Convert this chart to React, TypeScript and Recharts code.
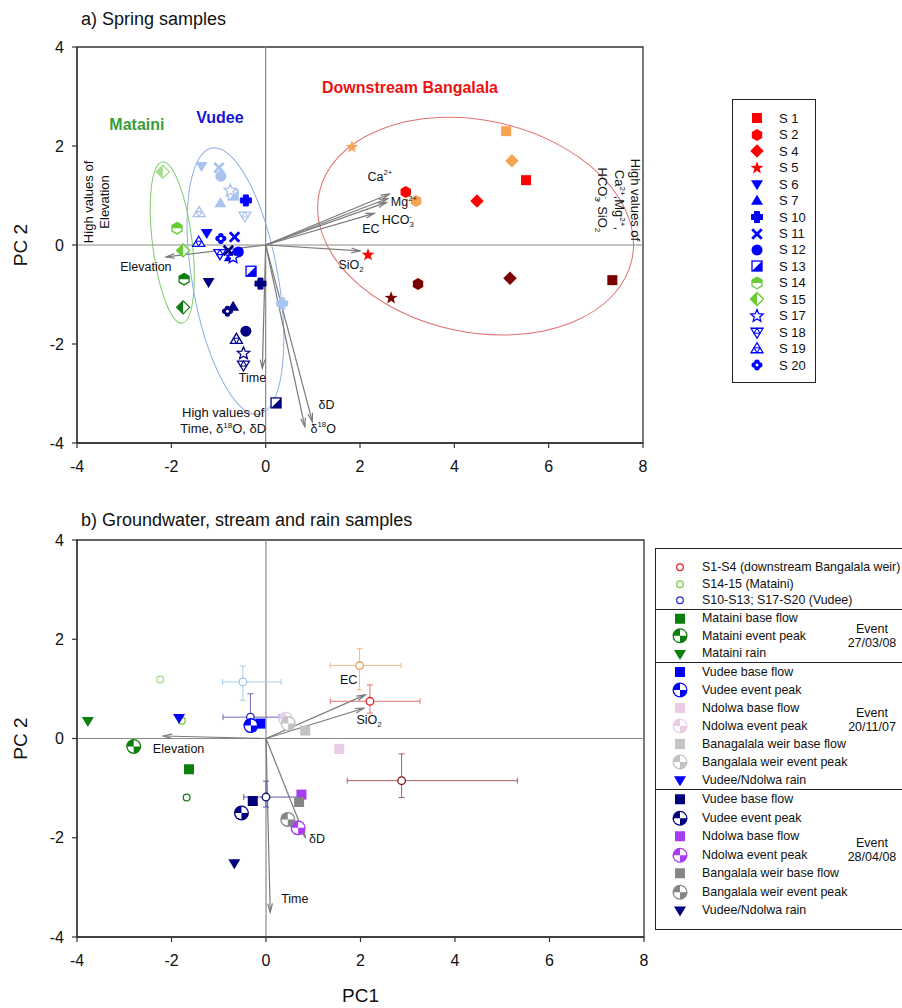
import React from "react";
import {
  ScatterChart,
  Scatter,
  XAxis,
  YAxis,
  ReferenceLine,
  ReferenceDot,
  ReferenceArea,
  ErrorBar,
  Legend,
} from "recharts";

const FONT = '"Liberation Sans", Arial, Helvetica, sans-serif';

// ---------- a) spring samples: PC1 / PC2 scores, three sampling rounds ----------
const springSites = ["S 1", "S 2", "S 4", "S 5", "S 6", "S 7", "S 10", "S 11", "S 12", "S 13", "S 14", "S 15", "S 17", "S 18", "S 19", "S 20"];

// pale symbols
const springRound1 = [
  { site: "S 1", x: 5.1, y: 2.3 },
  { site: "S 2", x: 3.19, y: 0.89 },
  { site: "S 4", x: 5.22, y: 1.7 },
  { site: "S 5", x: 1.83, y: 1.98 },
  { site: "S 6", x: -1.36, y: 1.6 },
  { site: "S 7", x: -0.96, y: 0.84 },
  { site: "S 10", x: 0.35, y: -1.18 },
  { site: "S 11", x: -0.99, y: 1.56 },
  { site: "S 12", x: -0.95, y: 1.39 },
  { site: "S 13", x: -0.69, y: 1.01 },
  { site: "S 15", x: -2.18, y: 1.48 },
  { site: "S 17", x: -0.75, y: 1.1 },
  { site: "S 18", x: -0.44, y: 0.59 },
  { site: "S 19", x: -1.41, y: 0.65 },
];

// mid symbols
const springRound2 = [
  { site: "S 1", x: 5.52, y: 1.31 },
  { site: "S 2", x: 2.97, y: 1.07 },
  { site: "S 4", x: 4.48, y: 0.89 },
  { site: "S 5", x: 2.17, y: -0.2 },
  { site: "S 6", x: -1.25, y: 0.25 },
  { site: "S 7", x: -0.76, y: -0.25 },
  { site: "S 10", x: -0.42, y: 0.9 },
  { site: "S 11", x: -0.66, y: 0.16 },
  { site: "S 12", x: -0.58, y: -0.14 },
  { site: "S 13", x: -0.31, y: -0.53 },
  { site: "S 14", x: -1.88, y: 0.34 },
  { site: "S 15", x: -1.75, y: -0.11 },
  { site: "S 17", x: -0.69, y: -0.25 },
  { site: "S 18", x: -0.97, y: -0.17 },
  { site: "S 19", x: -1.42, y: 0.05 },
  { site: "S 20", x: -0.95, y: 0.13 },
];

// dark symbols
const springRound3 = [
  { site: "S 1", x: 7.35, y: -0.71 },
  { site: "S 2", x: 3.23, y: -0.79 },
  { site: "S 4", x: 5.18, y: -0.67 },
  { site: "S 5", x: 2.66, y: -1.07 },
  { site: "S 6", x: -1.21, y: -0.74 },
  { site: "S 7", x: -0.69, y: -1.25 },
  { site: "S 10", x: -0.11, y: -0.78 },
  { site: "S 11", x: -0.79, y: -0.11 },
  { site: "S 12", x: -0.42, y: -1.74 },
  { site: "S 13", x: 0.22, y: -3.19 },
  { site: "S 14", x: -1.73, y: -0.69 },
  { site: "S 15", x: -1.75, y: -1.26 },
  { site: "S 17", x: -0.47, y: -2.19 },
  { site: "S 18", x: -0.47, y: -2.42 },
  { site: "S 19", x: -0.62, y: -1.91 },
  { site: "S 20", x: -0.81, y: -1.34 },
];

const springLoadings = [
  { name: "Ca", x: 2.62, y: 1.03 },
  { name: "Mg", x: 2.59, y: 0.94 },
  { name: "HCO3", x: 2.56, y: 0.86 },
  { name: "EC", x: 2.3, y: 0.64 },
  { name: "SiO2", x: 2.0, y: -0.12 },
  { name: "Elevation", x: -2.11, y: -0.24 },
  { name: "Time", x: -0.07, y: -2.49 },
  { name: "d18O", x: 0.83, y: -3.67 },
  { name: "dD", x: 0.99, y: -3.57 },
];

// ---------- b) groundwater, stream and rain ----------
const springMeanLabels = ["S1-S4 (downstream Bangalala weir)", "S14-15 (Mataini)", "S10-S13; S17-S20 (Vudee)"];

const bangalalaMeans = [
  { round: 0, x: 1.98, y: 1.47, ex: [0.62, 0.88], ey: [0.49, 0.34] },
  { round: 1, x: 2.2, y: 0.75, ex: [0.84, 1.06], ey: [0.24, 0.33] },
  { round: 2, x: 2.87, y: -0.85, ex: [1.15, 2.45], ey: [0.34, 0.54] },
];
const matainiMeans = [
  { round: 0, x: -2.24, y: 1.19 },
  { round: 1, x: -1.78, y: 0.36 },
  { round: 2, x: -1.68, y: -1.19 },
];
const vudeeMeans = [
  { round: 0, x: -0.49, y: 1.14, ex: [0.43, 0.81], ey: [0.37, 0.32] },
  { round: 1, x: -0.33, y: 0.43, ex: [0.58, 0.61], ey: [0.25, 0.47] },
  { round: 2, x: 0.0, y: -1.18, ex: [0.47, 0.73], ey: [0.2, 0.32] },
];

const event270308 = [
  { item: "Mataini base flow", x: -1.63, y: -0.62 },
  { item: "Mataini event peak", x: -2.8, y: -0.16 },
  { item: "Mataini rain", x: -3.77, y: 0.36 },
];
const event201107 = [
  { item: "Vudee base flow", x: -0.12, y: 0.3 },
  { item: "Vudee event peak", x: -0.32, y: 0.26 },
  { item: "Ndolwa base flow", x: 1.55, y: -0.21 },
  { item: "Ndolwa event peak", x: 0.42, y: 0.39 },
  { item: "Banagalala weir base flow", x: 0.83, y: 0.16 },
  { item: "Bangalala weir event peak", x: 0.47, y: 0.3 },
  { item: "Vudee/Ndolwa rain", x: -1.84, y: 0.42 },
];
const event280408 = [
  { item: "Vudee base flow", x: -0.28, y: -1.26 },
  { item: "Vudee event peak", x: -0.52, y: -1.5 },
  { item: "Ndolwa base flow", x: 0.75, y: -1.13 },
  { item: "Ndolwa event peak", x: 0.68, y: -1.8 },
  { item: "Bangalala weir base flow", x: 0.7, y: -1.28 },
  { item: "Bangalala weir event peak", x: 0.46, y: -1.63 },
  { item: "Vudee/Ndolwa rain", x: -0.67, y: -2.51 },
];
const eventDates = ["27/03/08", "20/11/07", "28/04/08"];

const streamLoadings = [
  { name: "EC", x: 2.1, y: 0.88 },
  { name: "SiO2", x: 2.07, y: 0.61 },
  { name: "Elevation", x: -2.17, y: 0.05 },
  { name: "dD", x: 0.83, y: -1.99 },
  { name: "Time", x: 0.09, y: -3.5 },
];

// ---------- styling tables ----------
const siteMarker: Record<string, string> = {
  "S 1": "square", "S 2": "hexagon", "S 4": "diamond", "S 5": "star",
  "S 6": "triDown", "S 7": "triUp", "S 10": "plus", "S 11": "cross",
  "S 12": "circle", "S 13": "halfSquare", "S 14": "halfHex", "S 15": "halfDiamond",
  "S 17": "starOpen", "S 18": "triDownOpen", "S 19": "triUpOpen", "S 20": "flower",
};
const shades: Record<string, string[]> = {
  bang: ["#f5a455", "#ff0000", "#7d0000"],
  vud: ["#a9c3ef", "#0000ff", "#000080"],
  mat: ["#a5dd8a", "#66cc33", "#127a12"],
};
const siteGroup = (site: string) => {
  const n = parseInt(site.replace(/\D/g, ""), 10);
  if (n <= 5) return "bang";
  if (n === 14 || n === 15) return "mat";
  return "vud";
};
const ringColors: Record<string, string[]> = {
  bang: ["#eda45a", "#dd1f1f", "#7a1616"],
  mat: ["#a5dd8a", "#77cc44", "#1a801a"],
  vud: ["#9fc6ec", "#2a2ab0", "#12127a"],
};
const barColors: Record<string, string[]> = {
  bang: ["#efbb8c", "#e07272", "#a86060"],
  vud: ["#a8cff0", "#6a6ac0", "#5a5aa8"],
};
const eventColors: Record<string, string>[] = [
  { Mataini: "#0a7f0a" },
  { Vudee: "#0000ff", Ndolwa: "#e9cde7", Ban: "#c3c3c3" },
  { Vudee: "#00007a", Ndolwa: "#a83cf2", Ban: "#858585" },
];
const itemColor = (item: string, k: number) => {
  const pal = eventColors[k];
  const key = Object.keys(pal).find((name) => item.startsWith(name)) || "";
  return pal[key];
};
const itemMarker = (item: string) =>
  item.includes("base") ? "square" : item.includes("peak") ? "quarter" : "triDown";
const itemSize = (kind: string) => (kind === "quarter" ? 7.5 : 5);

// text annotations (data coordinates)
const springNotes = [
  { text: ["Mataini"], x: -2.73, y: 2.32, size: 16, bold: true, color: "#3c9c3c" },
  { text: ["Vudee"], x: -0.97, y: 2.47, size: 16, bold: true, color: "#1515d5" },
  { text: ["Downstream Bangalala"], x: 3.06, y: 3.08, size: 16, bold: true, color: "#ee1111" },
  { text: ["Ca^{2+}"], x: 2.42, y: 1.3 },
  { text: ["Mg^{2+}"], x: 2.93, y: 0.79 },
  { text: ["HCO_{3}^{-}"], x: 2.8, y: 0.42 },
  { text: ["EC"], x: 2.23, y: 0.25 },
  { text: ["SiO_{2}"], x: 1.81, y: -0.49 },
  { text: ["Elevation"], x: -2.54, y: -0.52 },
  { text: ["Time"], x: -0.28, y: -2.77 },
  { text: ["δD"], x: 1.29, y: -3.31 },
  { text: ["δ^{18}O"], x: 1.22, y: -3.79 },
  { text: ["High values of", "Time, δ^{18}O, δD"], x: -0.9, y: -3.64, size: 13 },
  { text: ["High values of", "Elevation"], x: -3.49, y: 0.87, size: 13, rotate: -90 },
  { text: ["High values of", "Ca^{2+},Mg^{2+},", "HCO_{3}^{-}, SiO_{2}"], x: 7.4, y: 0.91, size: 13, rotate: 90, gap: 1.28 },
];
const streamNotes = [
  { text: ["EC"], x: 1.75, y: 1.09 },
  { text: ["SiO_{2}"], x: 2.18, y: 0.3 },
  { text: ["Elevation"], x: -1.85, y: -0.3 },
  { text: ["δD"], x: 1.08, y: -2.1 },
  { text: ["Time"], x: 0.61, y: -3.32 },
];

const springEllipses = [
  { x: -1.98, y: 0.05, rx: 0.42, ry: 1.64, angle: -7, color: "#7ccc6a" },
  { x: -0.64, y: -0.73, rx: 0.91, ry: 2.73, angle: -10, color: "#8eaee8" },
  { x: 4.45, y: 0.38, rx: 3.39, ry: 2.14, angle: 12, color: "#e07070" },
];

// ---------- drawing helpers ----------
const pts = (a: number[][]) => a.map((p) => `${p[0]},${p[1]}`).join(" ");
const mid = (a: number[], b: number[]) => [(a[0] + b[0]) / 2, (a[1] + b[1]) / 2];
const hexPts = (cx: number, cy: number, r: number) =>
  [0, 1, 2, 3, 4, 5].map((i) => {
    const a = -Math.PI / 2 + (i * Math.PI) / 3;
    return [cx + r * Math.cos(a), cy + r * Math.sin(a)];
  });
const starPts = (cx: number, cy: number, ro: number, ri: number) =>
  [0, 1, 2, 3, 4, 5, 6, 7, 8, 9].map((i) => {
    const r = i % 2 ? ri : ro;
    const a = -Math.PI / 2 + (i * Math.PI) / 5;
    return [cx + r * Math.cos(a), cy + r * Math.sin(a)];
  });

function Marker({ kind, cx, cy, color, s = 5 }: any) {
  if (!Number.isFinite(cx) || !Number.isFinite(cy)) return <g />;
  const W = "#fff";
  const sw = 1.3;
  switch (kind) {
    case "square":
      return <rect x={cx - s} y={cy - s} width={2 * s} height={2 * s} fill={color} />;
    case "circle":
      return <circle cx={cx} cy={cy} r={s * 1.1} fill={color} />;
    case "ring":
      return <circle cx={cx} cy={cy} r={s} fill={W} stroke={color} strokeWidth={1.3} />;
    case "hexagon":
      return <polygon points={pts(hexPts(cx, cy, s * 1.2))} fill={color} />;
    case "halfHex": {
      const r = s * 1.15;
      const h = hexPts(cx, cy, r);
      const top = [h[5], h[0], h[1], [cx + 0.866 * r, cy], [cx - 0.866 * r, cy]];
      return (
        <g>
          <polygon points={pts(h)} fill={W} stroke={color} strokeWidth={sw} />
          <polygon points={pts(top)} fill={color} />
        </g>
      );
    }
    case "diamond": {
      const d = s * 1.35;
      return <polygon points={pts([[cx, cy - d], [cx + d, cy], [cx, cy + d], [cx - d, cy]])} fill={color} />;
    }
    case "halfDiamond": {
      const d = s * 1.3;
      return (
        <g>
          <polygon points={pts([[cx, cy - d], [cx + d, cy], [cx, cy + d], [cx - d, cy]])} fill={W} stroke={color} strokeWidth={sw} />
          <polygon points={pts([[cx, cy - d], [cx, cy + d], [cx - d, cy]])} fill={color} />
        </g>
      );
    }
    case "star":
      return <polygon points={pts(starPts(cx, cy, s * 1.35, s * 0.55))} fill={color} />;
    case "starOpen":
      return <polygon points={pts(starPts(cx, cy, s * 1.3, s * 0.58))} fill={W} stroke={color} strokeWidth={sw} />;
    case "triDown":
    case "triUp":
    case "triDownOpen":
    case "triUpOpen": {
      const k = kind.startsWith("triUp") ? -1 : 1;
      const t = [
        [cx - s * 1.2, cy - k * s * 0.75],
        [cx + s * 1.2, cy - k * s * 0.75],
        [cx, cy + k * s * 1.25],
      ];
      if (!kind.endsWith("Open")) return <polygon points={pts(t)} fill={color} />;
      const m = [mid(t[0], t[1]), mid(t[1], t[2]), mid(t[2], t[0])];
      return (
        <g>
          <polygon points={pts(t)} fill={W} stroke={color} strokeWidth={sw} />
          <polygon points={pts(m)} fill="none" stroke={color} strokeWidth={1.1} />
        </g>
      );
    }
    case "plus": {
      const a = s * 0.5;
      const b = s * 1.1;
      const c = b - a;
      return (
        <path
          d={`M${cx - a},${cy - b}h${2 * a}v${c}h${c}v${2 * a}h${-c}v${c}h${-2 * a}v${-c}h${-c}v${-2 * a}h${c}z`}
          fill={color}
          stroke={color}
          strokeWidth={1}
          strokeLinejoin="round"
        />
      );
    }
    case "cross": {
      const d = s * 0.95;
      return (
        <g stroke={color} strokeWidth={s * 0.55}>
          <line x1={cx - d} y1={cy - d} x2={cx + d} y2={cy + d} />
          <line x1={cx - d} y1={cy + d} x2={cx + d} y2={cy - d} />
        </g>
      );
    }
    case "halfSquare":
      return (
        <g>
          <rect x={cx - s} y={cy - s} width={2 * s} height={2 * s} fill={W} stroke={color} strokeWidth={sw} />
          <polygon points={pts([[cx + s, cy - s], [cx + s, cy + s], [cx - s, cy + s]])} fill={color} />
        </g>
      );
    case "flower": {
      const p = s * 0.55;
      return (
        <g fill={color}>
          {[[0, -1], [1, 0], [0, 1], [-1, 0]].map(([dx, dy], i) => (
            <circle key={i} cx={cx + dx * p} cy={cy + dy * p} r={s * 0.55} />
          ))}
          <circle cx={cx} cy={cy} r={s * 0.6} />
          <circle cx={cx} cy={cy} r={s * 0.3} fill={W} />
        </g>
      );
    }
    case "quarter": {
      const r = s - 1.3;
      return (
        <g>
          <circle cx={cx} cy={cy} r={s} fill={color} />
          <path d={`M${cx},${cy}L${cx},${cy - r}A${r},${r} 0 0 1 ${cx + r},${cy}Z`} fill={W} />
          <path d={`M${cx},${cy}L${cx},${cy + r}A${r},${r} 0 0 1 ${cx - r},${cy}Z`} fill={W} />
        </g>
      );
    }
    default:
      return <g />;
  }
}

// "Ca^{2+}", "SiO_{2}" style labels
function RichText({ text, size }: { text: string; size: number }) {
  const parts = text.split(/(\^\{[^}]*\}|_\{[^}]*\})/).filter(Boolean);
  let shift = 0;
  let prevSub = false;
  return (
    <>
      {parts.map((p, i) => {
        let target = 0;
        let fs = size;
        let content = p;
        let dx = 0;
        const isSup = p.startsWith("^{");
        const isSub = p.startsWith("_{");
        if (isSup) {
          target = -size * 0.42;
          fs = size * 0.62;
          content = p.slice(2, -1);
          if (prevSub) dx = -size * 0.36;
        } else if (isSub) {
          target = size * 0.25;
          fs = size * 0.62;
          content = p.slice(2, -1);
        }
        const dy = target - shift;
        shift = target;
        prevSub = isSub;
        return (
          <tspan key={i} dy={dy} dx={dx || undefined} fontSize={fs}>
            {content}
          </tspan>
        );
      })}
    </>
  );
}

const noteShape = (n: any) => (p: any) => {
  const { cx, cy } = p;
  const size = n.size || 12.5;
  const lineH = size * (n.gap || 1.2);
  const y0 = cy - ((n.text.length - 1) * lineH) / 2;
  return (
    <g transform={n.rotate ? `rotate(${n.rotate} ${cx} ${cy})` : undefined}>
      {n.text.map((ln: string, i: number) => (
        <text
          key={i}
          x={cx}
          y={y0 + i * lineH}
          dy="0.35em"
          textAnchor="middle"
          fontSize={size}
          fontWeight={n.bold ? "bold" : "normal"}
          fill={n.color || "#111"}
          fontFamily={FONT}
        >
          <RichText text={ln} size={size} />
        </text>
      ))}
    </g>
  );
};

const arrowShape = (p: any) => {
  const { x1, y1, x2, y2 } = p;
  const a = Math.atan2(y2 - y1, x2 - x1);
  const L = 9;
  const w = 0.27;
  const h1 = [x2 - L * Math.cos(a - w), y2 - L * Math.sin(a - w)];
  const h2 = [x2 - L * Math.cos(a + w), y2 - L * Math.sin(a + w)];
  return (
    <g stroke="#7a7a7a" strokeWidth={1.2} fill="none">
      <line x1={x1} y1={y1} x2={x2} y2={y2} />
      <polyline points={`${h1[0]},${h1[1]} ${x2},${y2} ${h2[0]},${h2[1]}`} />
    </g>
  );
};

// segment spans +-1 unit around the centre, giving pixel scale for the ellipse
const ellipseShape = (e: any) => (p: any) => {
  const { x1, y1, x2, y2 } = p;
  const cx = (x1 + x2) / 2;
  const cy = (y1 + y2) / 2;
  const sx = Math.abs(x2 - x1) / 2;
  const sy = Math.abs(y2 - y1) / 2;
  return (
    <ellipse
      cx={cx}
      cy={cy}
      rx={e.rx * sx}
      ry={e.ry * sy}
      transform={`rotate(${e.angle} ${cx} ${cy})`}
      fill="none"
      stroke={e.color}
      strokeWidth={1}
    />
  );
};

const axisProps = {
  type: "number" as const,
  allowDataOverflow: true,
  axisLine: { stroke: "#333", strokeWidth: 1.3 },
  tickLine: { stroke: "#333", strokeWidth: 1.2 },
  tickSize: 5,
  tick: { fill: "#111", fontSize: 16, fontFamily: FONT },
};
const xTicks = [-4, -2, 0, 2, 4, 6, 8];
const yTicks = [-4, -2, 0, 2, 4];
const pc2Label = {
  value: "PC 2",
  angle: -90,
  position: "insideLeft" as const,
  offset: 20,
  style: { textAnchor: "middle", fontSize: 19, fill: "#111", fontFamily: FONT },
};

function SpringLegend() {
  return (
    <div
      style={{
        width: 84,
        height: 284,
        boxSizing: "border-box",
        border: "1px solid #222",
        background: "#fff",
        paddingTop: 10,
        fontFamily: FONT,
        fontSize: 13,
        color: "#111",
      }}
    >
      {springSites.map((s) => (
        <div key={s} style={{ height: 16.47, display: "flex", alignItems: "center", whiteSpace: "nowrap" }}>
          <svg width={46} height={16} style={{ flex: "none", overflow: "visible" }}>
            <Marker kind={siteMarker[s]} cx={24} cy={8} color={shades[siteGroup(s)][1]} s={5} />
          </svg>
          <span>{s}</span>
        </div>
      ))}
    </div>
  );
}

function StreamLegend() {
  const meanRows = springMeanLabels.map((label, i) => ({
    label,
    kind: "ring",
    color: ["#dd2222", "#77cc44", "#2a2ad0"][i],
    s: 3.3,
  }));
  const eventRows = (ev: any[], k: number) =>
    ev.map((d) => {
      const kind = itemMarker(d.item);
      return { label: d.item, kind, color: itemColor(d.item, k), s: itemSize(kind) };
    });
  const sections = [
    { rows: meanRows, rowH: 16.5, padTop: 10, padBottom: 0, event: "", eventTop: 0 },
    { rows: eventRows(event270308, 0), rowH: 17.5, padTop: 0, padBottom: 0, event: eventDates[0], eventTop: 12 },
    { rows: eventRows(event201107, 1), rowH: 18, padTop: 0, padBottom: 0, event: eventDates[1], eventTop: 43 },
    { rows: eventRows(event280408, 2), rowH: 18.5, padTop: 0, padBottom: 9, event: eventDates[2], eventTop: 46 },
  ];
  return (
    <div style={{ width: 270, border: "1px solid #222", background: "#fff", fontFamily: FONT, fontSize: 12.4, color: "#111" }}>
      {sections.map((sec, i) => (
        <div
          key={i}
          style={{
            position: "relative",
            borderTop: i ? "1px solid #222" : "none",
            paddingTop: sec.padTop,
            paddingBottom: sec.padBottom,
          }}
        >
          {sec.rows.map((row) => (
            <div key={row.label} style={{ height: sec.rowH, display: "flex", alignItems: "center", whiteSpace: "nowrap" }}>
              <svg width={46} height={sec.rowH} style={{ flex: "none", overflow: "visible" }}>
                <Marker kind={row.kind} cx={24} cy={sec.rowH / 2} color={row.color} s={row.s} />
              </svg>
              <span>{row.label}</span>
            </div>
          ))}
          {sec.event && (
            <div style={{ position: "absolute", left: 190, top: sec.eventTop, width: 52, textAlign: "center", lineHeight: "14px", fontSize: 12.5 }}>
              Event
              <br />
              {sec.event}
            </div>
          )}
        </div>
      ))}
    </div>
  );
}

function SpringPanel() {
  const rounds = [springRound1, springRound2, springRound3];
  return (
    <ScatterChart width={902} height={490} margin={{ top: 47, right: 259, bottom: 0, left: 0 }}>
      <XAxis {...axisProps} dataKey="x" domain={[-4, 8]} ticks={xTicks} height={47} tickMargin={13} />
      <YAxis {...axisProps} dataKey="y" domain={[-4, 4]} ticks={yTicks} width={77} tickMargin={8} label={pc2Label} />
      <ReferenceArea x1={-4} x2={8} y1={-4} y2={4} fill="none" stroke="#333" strokeWidth={1.3} />
      <ReferenceLine x={0} stroke="#8a8a8a" strokeWidth={1.2} />
      <ReferenceLine y={0} stroke="#8a8a8a" strokeWidth={1.2} />
      {springEllipses.map((e, i) => (
        <ReferenceLine
          key={`e${i}`}
          segment={[{ x: e.x - 1, y: e.y - 1 }, { x: e.x + 1, y: e.y + 1 }]}
          shape={ellipseShape(e)}
        />
      ))}
      {springLoadings.map((l) => (
        <ReferenceLine key={l.name} segment={[{ x: 0, y: 0 }, { x: l.x, y: l.y }]} shape={arrowShape} />
      ))}
      {rounds.map((round, r) => (
        <Scatter
          key={r}
          data={round}
          isAnimationActive={false}
          shape={(p: any) => (
            <Marker kind={siteMarker[p.payload.site]} cx={p.cx} cy={p.cy} color={shades[siteGroup(p.payload.site)][r]} s={5} />
          )}
        />
      ))}
      {springNotes.map((n, i) => (
        <ReferenceDot key={`n${i}`} x={n.x} y={n.y} r={0} shape={noteShape(n)} />
      ))}
      <Legend
        layout="vertical"
        align="center"
        verticalAlign="middle"
        wrapperStyle={{ left: 732, top: 99, width: 84, height: 284 }}
        content={() => <SpringLegend />}
      />
    </ScatterChart>
  );
}

function StreamPanel() {
  const events = [event270308, event201107, event280408];
  const meanGroups: [string, any[]][] = [
    ["bang", bangalalaMeans],
    ["vud", vudeeMeans],
  ];
  return (
    <ScatterChart width={902} height={518} margin={{ top: 50, right: 258, bottom: 0, left: 0 }}>
      <XAxis
        {...axisProps}
        dataKey="x"
        domain={[-4, 8]}
        ticks={xTicks}
        height={71}
        tickMargin={13}
        label={{ value: "PC1", position: "insideBottom", offset: 6, style: { fontSize: 19, fill: "#111", fontFamily: FONT } }}
      />
      <YAxis {...axisProps} dataKey="y" domain={[-4, 4]} ticks={yTicks} width={77} tickMargin={8} label={pc2Label} />
      <ReferenceArea x1={-4} x2={8} y1={-4} y2={4} fill="none" stroke="#333" strokeWidth={1.3} />
      <ReferenceLine x={0} stroke="#8a8a8a" strokeWidth={1.2} />
      <ReferenceLine y={0} stroke="#8a8a8a" strokeWidth={1.2} />
      {streamLoadings.map((l) => (
        <ReferenceLine key={l.name} segment={[{ x: 0, y: 0 }, { x: l.x, y: l.y }]} shape={arrowShape} />
      ))}
      {meanGroups.map(([g, arr]) =>
        arr.map((m) => (
          <Scatter
            key={`${g}${m.round}`}
            data={[m]}
            isAnimationActive={false}
            shape={(p: any) => <Marker kind="ring" cx={p.cx} cy={p.cy} color={ringColors[g][m.round]} s={3.8} />}
          >
            <ErrorBar dataKey="ex" direction="x" width={3} stroke={barColors[g][m.round]} strokeWidth={1} isAnimationActive={false} />
            <ErrorBar dataKey="ey" direction="y" width={3} stroke={barColors[g][m.round]} strokeWidth={1} isAnimationActive={false} />
          </Scatter>
        ))
      )}
      <Scatter
        data={matainiMeans}
        isAnimationActive={false}
        shape={(p: any) => <Marker kind="ring" cx={p.cx} cy={p.cy} color={ringColors.mat[p.payload.round]} s={3.4} />}
      />
      {events.map((ev, k) => (
        <Scatter
          key={`ev${k}`}
          data={ev}
          isAnimationActive={false}
          shape={(p: any) => {
            const kind = itemMarker(p.payload.item);
            return <Marker kind={kind} cx={p.cx} cy={p.cy} color={itemColor(p.payload.item, k)} s={itemSize(kind)} />;
          }}
        />
      ))}
      {streamNotes.map((n, i) => (
        <ReferenceDot key={`n${i}`} x={n.x} y={n.y} r={0} shape={noteShape(n)} />
      ))}
      <Legend
        layout="vertical"
        align="center"
        verticalAlign="middle"
        wrapperStyle={{ left: 655, top: 58, width: 270 }}
        content={() => <StreamLegend />}
      />
    </ScatterChart>
  );
}

export default function App() {
  return (
    <div style={{ position: "relative", width: 902, height: 1008, overflow: "hidden", background: "#fff", fontFamily: FONT }}>
      <style>{"body{margin:0}"}</style>
      <div style={{ position: "absolute", left: 81, top: 8, fontSize: 18, lineHeight: "22px", color: "#111" }}>
        a) Spring samples
      </div>
      <div style={{ position: "absolute", left: 81, top: 509, fontSize: 18, lineHeight: "22px", color: "#111" }}>
        b) Groundwater, stream and rain samples
      </div>
      <div style={{ position: "absolute", left: 0, top: 0 }}>
        <SpringPanel />
      </div>
      <div style={{ position: "absolute", left: 0, top: 490 }}>
        <StreamPanel />
      </div>
    </div>
  );
}
